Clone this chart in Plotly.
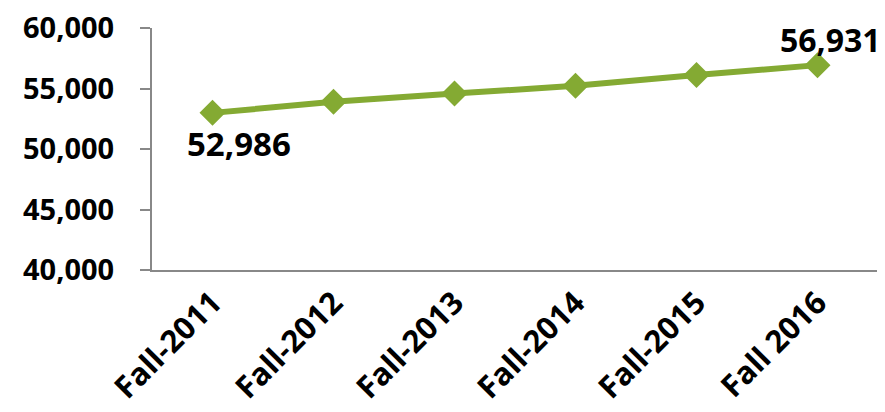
import plotly.graph_objects as go

categories = ["Fall-2011", "Fall-2012", "Fall-2013", "Fall-2014", "Fall-2015", "Fall 2016"]
values = [52986, 53900, 54580, 55220, 56110, 56931]
y_ticks = [40000, 45000, 50000, 55000, 60000]
y_tick_labels = ["40,000", "45,000", "50,000", "55,000", "60,000"]

green = "#84AA33"
axis_grey = "#888888"
font_family = "Open Sans"

fig = go.Figure()
fig.add_trace(go.Scatter(
    x=categories, y=values, mode="lines+markers",
    line=dict(color=green, width=6),
    marker=dict(symbol="diamond", size=20, color=green),
    hoverinfo="skip", showlegend=False,
))

fig.add_annotation(x=categories[0], y=values[0], text=f"{values[0]:,}",
                   showarrow=False, xshift=26, yshift=-31,
                   font=dict(family=font_family, size=33, color="black", weight="bold"))
fig.add_annotation(x=categories[-1], y=values[-1], text=f"{values[-1]:,}",
                   showarrow=False, xshift=13, yshift=26,
                   font=dict(family=font_family, size=32, color="black", weight="bold"))

fig.update_layout(
    width=885, height=412,
    margin=dict(l=144, r=15, t=20, b=150, autoexpand=False),
    paper_bgcolor="white", plot_bgcolor="white",
    font=dict(family=font_family, color="black"),
)
fig.update_xaxes(
    type="category", range=[-0.5, 5.5], automargin=False,
    showline=True, linecolor=axis_grey, linewidth=2,
    showgrid=False, ticks="", tickangle=-45,
    ticklabeloverflow="allow",
    tickfont=dict(family=font_family, size=31, color="black", weight="bold"),
)
fig.update_yaxes(
    range=[40000, 60000], tickvals=y_ticks, ticktext=y_tick_labels,
    automargin=False,
    showline=True, linecolor=axis_grey, linewidth=2,
    showgrid=False, zeroline=False, ticks="outside", ticklen=10,
    tickcolor=axis_grey, tickwidth=2, ticklabelstandoff=20,
    ticklabeloverflow="allow",
    tickfont=dict(family=font_family, size=29, color="black", weight="bold"),
)

fig.write_html("out.html")
